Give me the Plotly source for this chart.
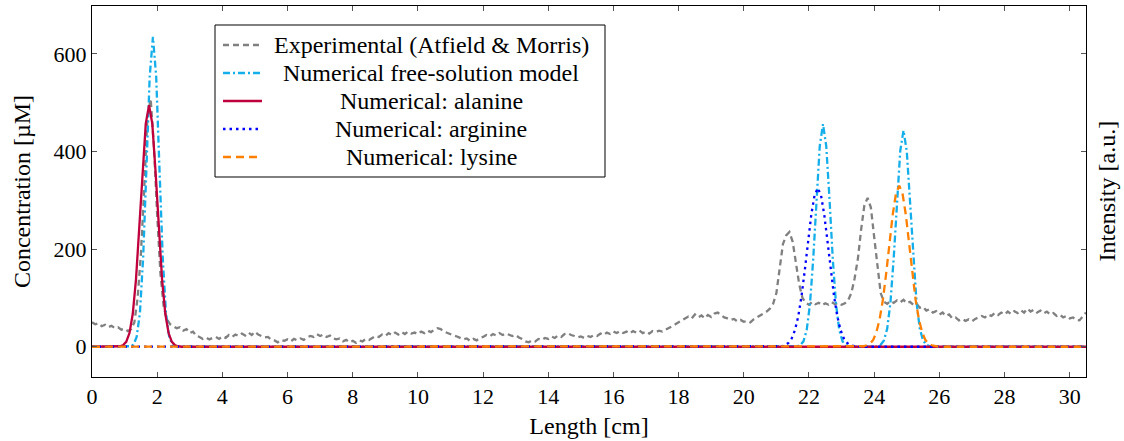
import plotly.graph_objects as go

# ---------------- data ----------------
exp_step = 0.1  # experimental trace sampled every 0.1 cm from 0 to 30.5
exp_y = [
    50, 46, 48, 42, 45, 40, 43, 38, 40, 35,
    37, 32, 36, 50, 100, 190, 320, 470, 508, 410,
    270, 150, 82, 56, 46, 42, 38, 40, 33, 36,
    28, 31, 22, 20, 16, 19, 15, 18, 20, 16,
    21, 18, 24, 20, 25, 22, 27, 23, 29, 24,
    31, 25, 22, 19, 20, 14, 13, 9, 14, 12,
    15, 11, 16, 13, 17, 14, 19, 22, 20, 26,
    22, 25, 20, 23, 17, 15, 17, 11, 14, 9,
    12, 8, 13, 11, 16, 14, 18, 22, 20, 25,
    22, 28, 24, 29, 25, 30, 26, 31, 27, 29,
    26, 31, 28, 33, 30, 35, 38, 36, 31, 28,
    26, 23, 21, 18, 15, 17, 12, 16, 13, 18,
    20, 24, 21, 26, 23, 28, 24, 27, 25, 22,
    24, 19, 16, 11, 9, 13, 11, 16, 14, 18,
    16, 21, 18, 23, 20, 26, 28, 24, 22, 19,
    21, 18, 22, 20, 24, 22, 27, 24, 29, 26,
    31, 28, 32, 28, 31, 27, 32, 29, 33, 28,
    31, 27, 32, 30, 33, 31, 35, 38, 42, 46,
    50, 53, 58, 62, 58, 66, 60, 64, 58, 65,
    61, 68, 70, 65, 60, 58, 55, 57, 52, 55,
    51, 53, 50, 56, 60, 64, 68, 72, 78, 88,
    110, 160, 210, 228, 235, 215, 170, 128, 100, 90,
    86, 92, 87, 90, 85, 89, 86, 91, 87, 90,
    86, 89, 95, 110, 140, 180, 240, 290, 305, 285,
    225, 160, 110, 92, 88, 94, 90, 95, 91, 96,
    89, 92, 86, 88, 80, 82, 74, 77, 70, 73,
    66, 70, 63, 66, 58, 60, 54, 57, 53, 56,
    52, 57, 60, 63, 60, 66, 63, 69, 65, 70,
    66, 72, 67, 73, 69, 75, 70, 78, 72, 76,
    70, 74, 68, 72, 66, 69, 63, 66, 60, 63,
    58, 60, 55, 54, 62, 70,
]
exp_x = [round(i * exp_step, 1) for i in range(len(exp_y))]

free_x = [0, 1.07, 1.17, 1.27, 1.37, 1.47, 1.57, 1.67, 1.77, 1.87, 1.97, 2.07, 2.17,
          2.27, 2.37, 2.47, 2.57, 2.67,
          21.53, 21.63, 21.73, 21.83, 21.93, 22.03, 22.13, 22.23, 22.33, 22.43, 22.53,
          22.63, 22.73, 22.83, 22.93, 23.03, 23.13, 23.23, 23.33,
          24.0, 24.1, 24.2, 24.3, 24.4, 24.5, 24.6, 24.7, 24.8, 24.9, 25.0, 25.1, 25.2,
          25.3, 25.4, 25.5, 25.6, 25.7, 25.8, 30.5]
free_y = [0, 0, 1, 4, 20, 69, 183, 365, 553, 635, 553, 365, 183, 69, 20, 4, 1, 0,
          0, 1, 3, 11, 34, 87, 180, 302, 411, 456, 411, 302, 180, 87, 34, 11, 3, 1, 0,
          0, 1, 4, 13, 37, 91, 182, 298, 401, 443, 401, 298, 182, 91, 37, 13, 4, 1, 0, 0]

ala_x = [0, 0.75, 0.85, 0.95, 1.05, 1.15, 1.25, 1.35, 1.45, 1.55, 1.65, 1.75, 1.85,
         1.95, 2.05, 2.15, 2.25, 2.35, 2.45, 2.55, 2.65, 2.75, 30.5]
ala_y = [0, 0, 1, 3, 10, 28, 67, 138, 241, 359, 457, 495, 457, 359, 241, 138, 67, 28,
         10, 3, 1, 0, 0]

arg_x = [0, 21.07, 21.17, 21.27, 21.37, 21.47, 21.57, 21.67, 21.77, 21.87, 21.97, 22.07,
         22.17, 22.27, 22.37, 22.47, 22.57, 22.67, 22.77, 22.87, 22.97, 23.07, 23.17,
         23.27, 23.37, 23.47, 30.5]
arg_y = [0, 0, 1, 3, 8, 17, 34, 62, 103, 156, 215, 270, 310, 325, 310, 270, 215, 156,
         103, 62, 34, 17, 8, 3, 1, 0, 0]

lys_x = [0, 23.57, 23.67, 23.77, 23.87, 23.97, 24.07, 24.17, 24.27, 24.37, 24.47, 24.57,
         24.67, 24.77, 24.87, 24.97, 25.07, 25.17, 25.27, 25.37, 25.47, 25.57, 25.67,
         25.77, 25.87, 25.97, 30.5]
lys_y = [0, 0, 1, 3, 6, 14, 30, 57, 97, 151, 213, 271, 314, 330, 314, 271, 213, 151,
         97, 57, 30, 14, 6, 3, 1, 0, 0]

x_ticks = [0, 2, 4, 6, 8, 10, 12, 14, 16, 18, 20, 22, 24, 26, 28, 30]
y_ticks = [0, 200, 400, 600]

# ---------------- styling ----------------
FONT = "'Liberation Serif', 'DejaVu Serif', 'Times New Roman', serif"
FS_TICK = 22
FS = 24
W, H = 1124, 441
ML, MR, MT, MB = 92, 38, 6, 64
PW, PH = W - ML - MR, H - MT - MB

series = [
    ("Experimental (Atfield & Morris)", exp_x, exp_y, "rgb(128,128,128)", "6px,4px"),
    ("Numerical free-solution model", free_x, free_y, "#14AEEA", "7px,3px,2px,3px"),
    ("Numerical: alanine", ala_x, ala_y, "#C0003C", "solid"),
    ("Numerical: arginine", arg_x, arg_y, "#0000FF", "2.5px,4px"),
    ("Numerical: lysine", lys_x, lys_y, "#FF8000", "8px,5px"),
]

fig = go.Figure()
for name, xs, ys, col, dash in series:
    fig.add_trace(go.Scatter(x=xs, y=ys, mode="lines", name=name, showlegend=False,
                             line=dict(color=col, width=2.3, dash=dash)))


def px(xp):
    return (xp - ML) / PW


def py(yp):
    return (H - MB - yp) / PH


# manual legend (pgfplots-style, centred text)
shapes = [dict(type="rect", xref="paper", yref="paper",
               x0=px(215), x1=px(605), y0=py(177), y1=py(25),
               line=dict(color="black", width=1), fillcolor="white", layer="above")]
annotations = []
entry_y = [45, 73, 101, 129, 157]
for (name, _, _, col, dash), ey in zip(series, entry_y):
    shapes.append(dict(type="line", xref="paper", yref="paper",
                       x0=px(223), x1=px(262), y0=py(ey), y1=py(ey),
                       line=dict(color=col, width=2.3, dash=dash), layer="above"))
    annotations.append(dict(text=name, xref="paper", yref="paper", x=px(431), y=py(ey),
                            xanchor="center", yanchor="middle", showarrow=False,
                            font=dict(family=FONT, size=FS, color="black")))

annotations.append(dict(text="Intensity [a.u.]", xref="paper", yref="paper",
                        x=px(1106), y=0.5, xanchor="center", yanchor="middle",
                        textangle=-90, showarrow=False,
                        font=dict(family=FONT, size=FS, color="black")))

axis_common = dict(showline=True, linecolor="black", linewidth=1, mirror="ticks",
                   ticks="inside", ticklen=5, tickwidth=1, tickcolor="#555",
                   showgrid=False, zeroline=False,
                   tickfont=dict(family=FONT, size=FS_TICK, color="black"))

fig.update_layout(
    width=W, height=H,
    margin=dict(l=ML, r=MR, t=MT, b=MB, pad=0),
    paper_bgcolor="white", plot_bgcolor="white",
    font=dict(family=FONT, size=FS, color="black"),
    showlegend=False,
    xaxis=dict(range=[0, 30.5], tickvals=x_ticks,
               title=dict(text="Length [cm]", font=dict(family=FONT, size=FS), standoff=8),
               **axis_common),
    yaxis=dict(range=[-62, 698], tickvals=y_ticks,
               title=dict(text="Concentration [µM]", font=dict(family=FONT, size=FS), standoff=16),
               **axis_common),
    shapes=shapes,
    annotations=annotations,
)

fig.write_html("out.html")
